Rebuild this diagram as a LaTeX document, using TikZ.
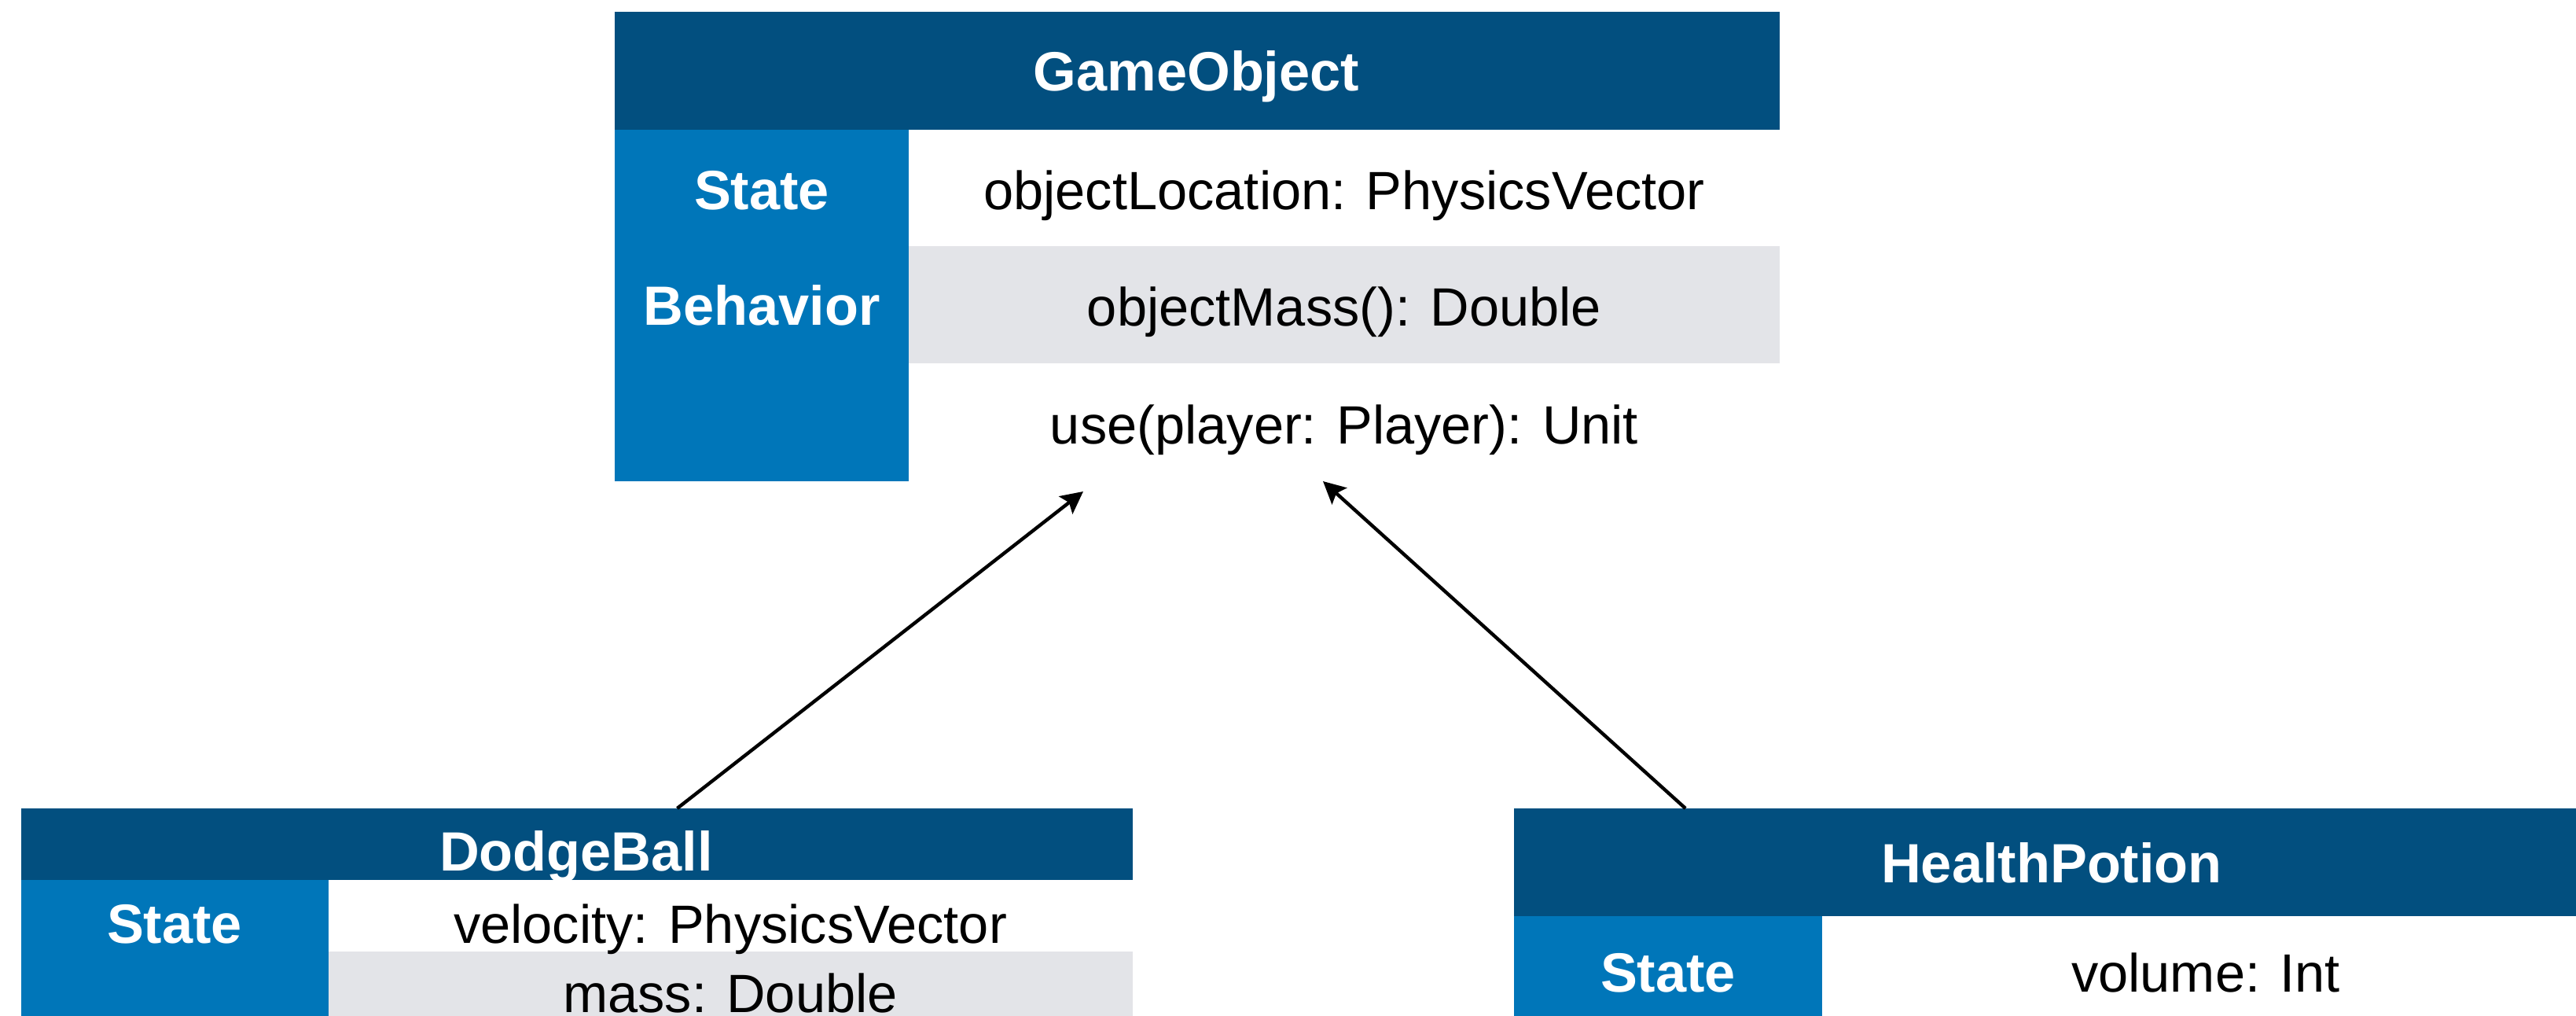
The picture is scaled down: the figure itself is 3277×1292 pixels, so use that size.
\documentclass[tikz,border=0pt]{standalone}
\usepackage{fontspec}
\setmainfont{Liberation Sans}
\usetikzlibrary{arrows.meta}
\definecolor{headblue}{HTML}{024F7F}
\definecolor{sideblue}{HTML}{0076B9}
\definecolor{rowgrey}{HTML}{E3E4E8}

\begin{document}
\begin{tikzpicture}[x=0.01cm, y=-0.01cm,
    box/.style={draw=none, inner sep=0pt, outer sep=0pt, anchor=north west},
    head/.style={box, fill=headblue},
    side/.style={box, fill=sideblue},
    grey/.style={box, fill=rowgrey},
    title/.style={anchor=base, text=white, inner sep=0pt,
      font=\fontsize{20}{24}\selectfont\bfseries},
    tag/.style={title},
    entry/.style={anchor=base, inner sep=0pt, font=\fontsize{19.5}{24}\selectfont},
    inherit/.style={-{Stealth[length=8pt, width=8pt, inset=1.5pt]}, line width=1.25pt}]
    \useasboundingbox (0,0) rectangle (3277,1292);
    \clip (0,0) rectangle (3277,1292);

    % GameObject
    \node[head, minimum width=14.81cm, minimum height=1.50cm] (gohead) at (782,15) {};
    \node[side, minimum width=3.74cm, minimum height=4.47cm] (goside) at (782,165) {};
    \node[grey, minimum width=11.07cm, minimum height=1.49cm] (gogrey) at (1156,313) {};
    \node[title] (gotitle) at (1522,116) {GameObject};
    \node[tag] (gostate) at (969,267) {State};
    \node[tag] (gobehav) at (969,414) {Behavior};
    \node[entry] (goloc) at (1710,267) {objectLocation: PhysicsVector};
    \node[entry] (gomass) at (1710,415) {objectMass(): Double};
    \node[entry] (gouse) at (1710,565) {use(player: Player): Unit};

    % DodgeBall
    \node[head, minimum width=14.13cm, minimum height=0.91cm] (dbhead) at (27,1028) {};
    \node[side, minimum width=3.91cm, minimum height=1.90cm] (dbside) at (27,1119) {};
    \node[grey, minimum width=10.22cm, minimum height=1.00cm] (dbgrey) at (418,1210) {};
    \node[title] (dbtitle) at (733,1108) {DodgeBall};
    \node[tag] (dbstate) at (222,1200) {State};
    \node[entry] (dbvel) at (929,1200) {velocity: PhysicsVector};
    \node[entry] (dbmass) at (929,1288) {mass: Double};

    % HealthPotion
    \node[head, minimum width=13.74cm, minimum height=1.37cm] (hphead) at (1926,1028) {};
    \node[side, minimum width=3.92cm, minimum height=1.60cm] (hpside) at (1926,1165) {};
    \node[title] (hptitle) at (2610,1123) {HealthPotion};
    \node[tag] (hpstate) at (2122,1262) {State};
    \node[entry] (hpvol) at (2806,1262) {volume: Int};

    % inheritance arrows
    \coordinate (tipl) at (1378,625);
    \coordinate (tipr) at (1683,612);
    \draw[inherit] ([xshift=8.34cm]dbhead.north west) -- (tipl);
    \draw[inherit] ([xshift=2.18cm]hphead.north west) -- (tipr);
\end{tikzpicture}
\end{document}
